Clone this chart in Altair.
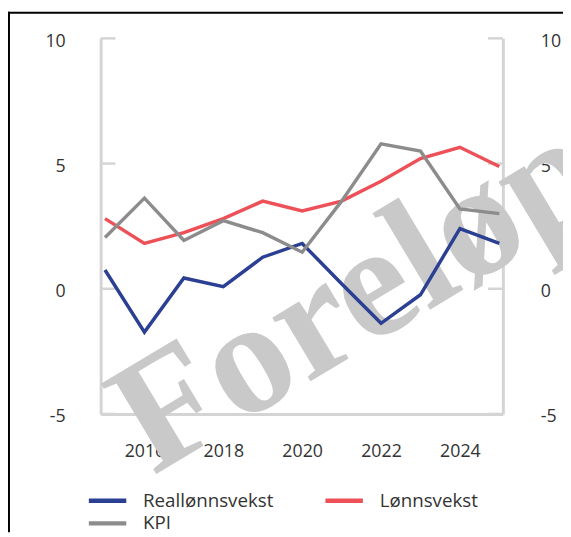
import altair as alt
import pandas as pd

YEARS = list(range(2015, 2026))
REAL = [0.75, -1.73, 0.43, 0.08, 1.26, 1.81, 0.2, -1.38, -0.24, 2.4, 1.81]
WAGE = [2.8, 1.81, 2.24, 2.8, 3.5, 3.11, 3.5, 4.29, 5.2, 5.65, 4.88]
CPI = [2.05, 3.62, 1.93, 2.72, 2.24, 1.46, 3.5, 5.79, 5.5, 3.19, 3.0]
SERIES = ["Reallønnsvekst", "Lønnsvekst", "KPI"]
COLORS = ["#2b3f93", "#ee5058", "#8c8c8c"]
Y_TICKS = [-5, 0, 5, 10]
X_TICKS = [2016, 2018, 2020, 2022, 2024]
WATERMARK = ["Foreløpig"]

W, H = 408, 381
AXIS_GRAY = "#d4d4d4"
TEXT = "#333333"
FONT = "Open Sans"
# legend layout (plot-area pixels): symbol left x, row centre y
LEGEND_SLOTS = [(-12, 469), (228, 469), (-12, 492)]

series_values = {"Reallønnsvekst": REAL, "Lønnsvekst": WAGE, "KPI": CPI}
rows = []
for name in SERIES:
    for yr, v in zip(YEARS, series_values[name]):
        rows.append({"year": yr, "value": v, "series": name})
df = pd.DataFrame(rows)
ticks_df = pd.DataFrame({"tick": Y_TICKS})
one = pd.DataFrame({"a": [0]})

y_scale = alt.Scale(domain=[-5, 10], nice=False, zero=False)
x_scale = alt.Scale(domain=[2014.89, 2025.09], nice=False, zero=False)

wm = alt.Chart(pd.DataFrame({"t": WATERMARK})).mark_text(
    font="Liberation Serif", fontWeight="bold", fontSize=164, angle=329,
    align="left", baseline="alphabetic", color="#c9c9c9"
).encode(text="t:N", x=alt.value(53), y=alt.value(444))

left_ticks = alt.Chart(ticks_df).mark_rule(color=AXIS_GRAY, strokeWidth=2.5).encode(
    y=alt.Y("tick:Q", scale=y_scale, axis=None),
    x=alt.value(0), x2=alt.value(15),
)

right_ticks = alt.Chart(ticks_df).mark_rule(color=AXIS_GRAY, strokeWidth=2.5).encode(
    y=alt.Y("tick:Q", scale=y_scale, axis=alt.Axis(
        orient="right", values=Y_TICKS, title=None, grid=False, ticks=False,
        domainColor=AXIS_GRAY, domainWidth=3, labelPadding=38, labelOffset=3,
        labelExpr="'' + datum.value",
        labelFont=FONT, labelFontSize=18, labelColor=TEXT)),
    x=alt.value(W - 15), x2=alt.value(W),
)

lines = alt.Chart(df).mark_line(strokeWidth=3.5).encode(
    x=alt.X("year:Q", scale=x_scale, axis=alt.Axis(
        values=X_TICKS, format="d", title=None, grid=False, ticks=False,
        domainColor=AXIS_GRAY, domainWidth=3, labelPadding=38,
        labelBaseline="middle", labelFont=FONT, labelFontSize=18,
        labelColor=TEXT)),
    y=alt.Y("value:Q", scale=y_scale, axis=alt.Axis(
        orient="left", values=Y_TICKS, title=None, grid=False, ticks=False,
        domainColor=AXIS_GRAY, domainWidth=3, labelPadding=36, labelOffset=3,
        labelExpr="'' + datum.value",
        labelFont=FONT, labelFontSize=18, labelColor=TEXT)),
    color=alt.Color("series:N", sort=SERIES,
                    scale=alt.Scale(domain=SERIES, range=COLORS), legend=None),
)

legend_layers = []
for name, col, (lx, ly) in zip(SERIES, COLORS, LEGEND_SLOTS):
    ldf = pd.DataFrame({"series": [name]})
    legend_layers.append(
        alt.Chart(ldf).mark_rule(color=col, strokeWidth=4.5).encode(
            x=alt.value(lx), x2=alt.value(lx + 38), y=alt.value(ly))
    )
    legend_layers.append(
        alt.Chart(ldf).mark_text(font=FONT, fontSize=19, color=TEXT,
                                 align="left", baseline="middle").encode(
            text="series:N", x=alt.value(lx + 55), y=alt.value(ly))
    )

top_border = alt.Chart(one).mark_rule(color="black", strokeWidth=2).encode(
    x=alt.value(-94), x2=alt.value(W + 61), y=alt.value(-26)
)
left_border = alt.Chart(one).mark_rule(color="black", strokeWidth=2).encode(
    x=alt.value(-93), y=alt.value(-27), y2=alt.value(H + 120)
)

chart = alt.layer(wm, left_ticks, right_ticks, lines, *legend_layers,
                  top_border, left_border).resolve_axis(
    y="independent"
).properties(
    width=W, height=H,
    padding={"left": 94, "top": 27, "right": 61, "bottom": 120},
    autosize=alt.AutoSizeParams(type="none"),
    background="white",
).configure_view(stroke=None)

chart.save("out.html", embed_options={"renderer": "svg", "actions": False})
